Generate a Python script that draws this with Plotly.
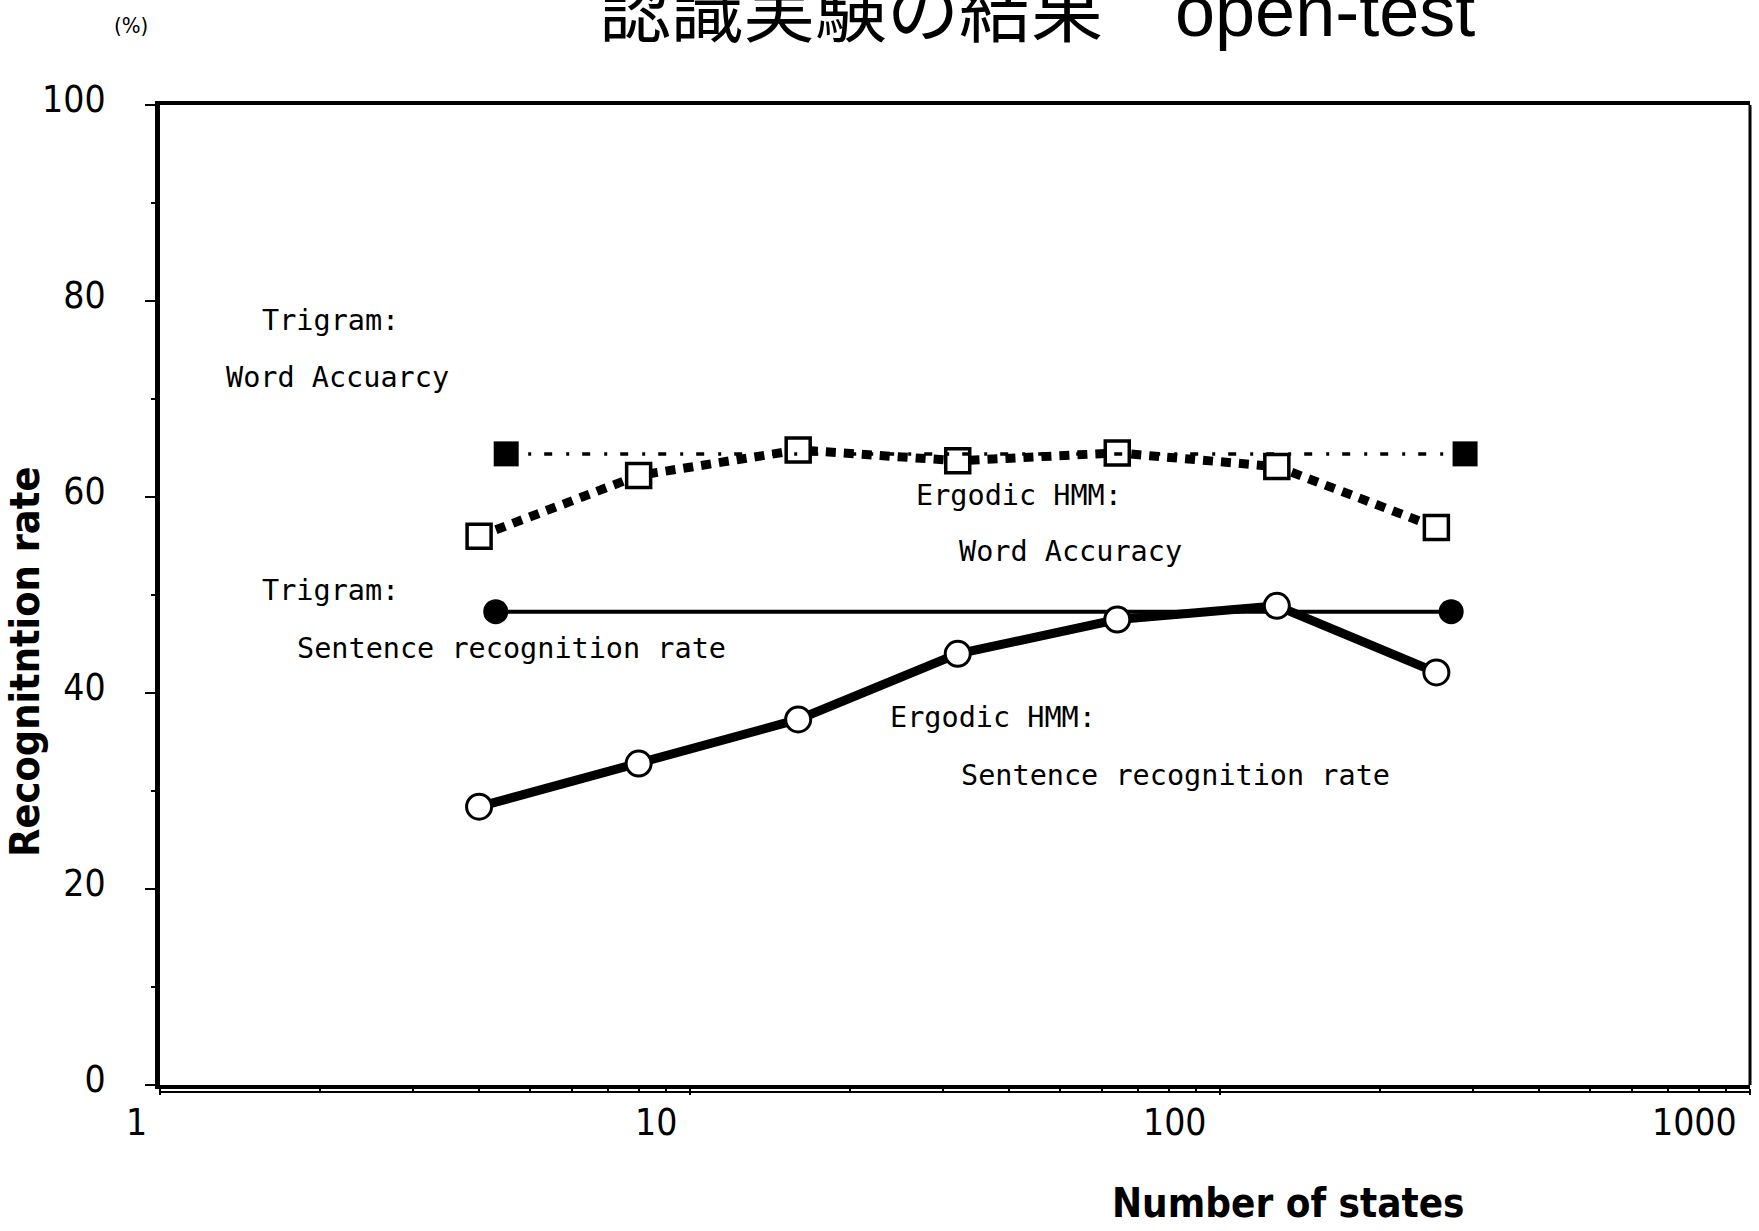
import math
import plotly.graph_objects as go

# Number of HMM states and recognition rates (%)
states = [4, 8, 16, 32, 64, 128, 256]
ergodic_word_acc = [56.0, 62.2, 64.8, 63.7, 64.5, 63.1, 56.9]
ergodic_sentence = [28.4, 32.8, 37.3, 44.0, 47.5, 48.9, 42.1]

# Trigram baselines (constant across the state range)
trigram_word_x = [4.5, 290]
trigram_word_acc = [64.4, 64.4]
trigram_sentence_x = [4.3, 273]
trigram_sentence = [48.3, 48.3]

x_tick_vals = [1, 10, 100, 1000]
x_tick_text = ["1", "10", "100", "1000"]
y_tick_vals = [0, 20, 40, 60, 80, 100]

NARROW = "Liberation Sans Narrow, DejaVu Sans Condensed, DejaVu Sans, sans-serif"
MONO = "DejaVu Sans Mono, Liberation Mono, monospace"

fig = go.Figure()

# Trigram sentence recognition rate: thin solid line, filled circles
fig.add_trace(go.Scatter(
    x=trigram_sentence_x, y=trigram_sentence, mode="lines+markers",
    line=dict(color="black", width=4),
    marker=dict(symbol="circle", size=25, color="black"),
    cliponaxis=False, showlegend=False))

# Ergodic HMM sentence recognition rate: thick solid line, open circles
fig.add_trace(go.Scatter(
    x=states, y=ergodic_sentence, mode="lines+markers",
    line=dict(color="black", width=9),
    marker=dict(symbol="circle", size=25, color="white",
                line=dict(color="black", width=3)),
    cliponaxis=False, showlegend=False))

# Ergodic HMM word accuracy: thick dotted line, open squares
fig.add_trace(go.Scatter(
    x=states, y=ergodic_word_acc, mode="lines+markers",
    line=dict(color="black", width=9, dash="10px,8px"),
    marker=dict(symbol="square", size=24, color="white",
                line=dict(color="black", width=3.5)),
    cliponaxis=False, showlegend=False))

# Trigram word accuracy: thin dash-dot line, filled squares
fig.add_trace(go.Scatter(
    x=trigram_word_x, y=trigram_word_acc, mode="lines+markers",
    line=dict(color="black", width=3.5, dash="8px,14px,3px,13px"),
    marker=dict(symbol="square", size=25, color="black"),
    cliponaxis=False, showlegend=False))

annotations = []

# x tick labels, right-aligned just left of each decade tick
for v, t in zip(x_tick_vals, x_tick_text):
    annotations.append(dict(
        x=math.log10(v), xref="x", y=-0.038, yref="paper",
        text=t, showarrow=False, xanchor="right", yanchor="middle",
        xshift=-11, font=dict(family=NARROW, size=37, color="black")))

# Series labels inside the plot
series_labels = [
    ("Trigram:", 0.0629, 0.7806),
    ("Word Accuarcy", 0.0403, 0.7224),
    ("Ergodic HMM:", 0.4742, 0.6020),
    ("Word Accuracy", 0.5013, 0.5439),
    ("Trigram:", 0.0629, 0.5041),
    ("Sentence recognition rate", 0.0849, 0.4459),
    ("Ergodic HMM:", 0.4579, 0.3745),
    ("Sentence recognition rate", 0.5025, 0.3163),
]
for text, px, py in series_labels:
    annotations.append(dict(
        x=px, y=py, xref="paper", yref="paper", text=text,
        showarrow=False, xanchor="left", yanchor="middle",
        font=dict(family=MONO, size=28.5, color="black")))

# Chart title, unit marker and axis titles
annotations += [
    dict(x=0.5513, y=1.096, xref="paper", yref="paper",
         text="認識実験の結果\u3000open-test", showarrow=False,
         xanchor="center", yanchor="middle",
         font=dict(family="Liberation Sans, Noto Sans CJK JP, sans-serif",
                   size=72, color="black")),
    dict(x=-0.018, y=1.0816, xref="paper", yref="paper", text="(%)",
         showarrow=False, xanchor="center", yanchor="middle",
         font=dict(family=NARROW, size=22, color="black")),
    dict(x=-0.085, y=0.4316, xref="paper", yref="paper",
         text="<b>Recognitntion rate</b>", textangle=-90, showarrow=False,
         xanchor="center", yanchor="middle",
         font=dict(family=NARROW, size=41, color="black")),
    dict(x=0.71, y=-0.12, xref="paper", yref="paper",
         text="<b>Number of states</b>", showarrow=False,
         xanchor="center", yanchor="middle",
         font=dict(family=NARROW, size=40, color="black")),
]

fig.update_layout(
    width=1759, height=1231,
    margin=dict(l=160, r=9, t=105, b=146),
    paper_bgcolor="white", plot_bgcolor="white",
    annotations=annotations,
    shapes=[
        # right frame edge
        dict(type="line", xref="paper", yref="paper", x0=1, x1=1, y0=0, y1=1,
             line=dict(color="black", width=3)),
        # second, thinner rule under the x axis
        dict(type="line", xref="paper", yref="paper", x0=0, x1=1,
             ysizemode="pixel", yanchor=0, y0=-7, y1=-7,
             line=dict(color="black", width=2)),
    ],
)

fig.update_xaxes(
    type="log", range=[0, 3], showgrid=False, zeroline=False,
    showline=True, linecolor="black", linewidth=4, mirror=True,
    ticks="outside", ticklen=6, tickwidth=2, tickcolor="black",
    tickvals=x_tick_vals, showticklabels=False,
    minor=dict(ticks="outside", ticklen=4, tickwidth=1.5,
               tickcolor="black", dtick="D1", showgrid=False),
)

fig.update_yaxes(
    range=[0, 100], showgrid=False, zeroline=False,
    showline=True, linecolor="black", linewidth=5,
    ticks="outside", ticklen=10, tickwidth=2, tickcolor="black",
    tickvals=y_tick_vals, ticklabelstandoff=32, ticklabelshift=-6,
    tickfont=dict(family=NARROW, size=37, color="black"),
    minor=dict(ticks="outside", ticklen=4, tickwidth=2,
               tickcolor="black", dtick=10, showgrid=False),
)

fig.write_html("out.html")
